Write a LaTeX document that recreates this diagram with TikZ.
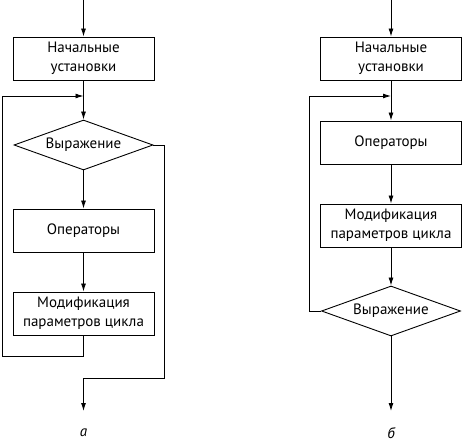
\documentclass[tikz,border=0pt]{standalone}
\usepackage{fontspec}
\setmainfont{PT Sans}
\usetikzlibrary{shapes.geometric,arrows.meta}

\tikzset{
  blok/.style={draw, rectangle, minimum width=141pt, minimum height=43pt,
    align=center, inner sep=0pt},
  uslovie/.style={draw, diamond, aspect=2.8, minimum width=139pt,
    minimum height=50pt, inner sep=0pt},
  strelka/.style={-{Latex[length=8pt,width=5pt]}},
}

\begin{document}
\begin{tikzpicture}[x=1pt, y=-1pt, line width=0.9pt,
    font=\fontsize{15}{18.5}\selectfont]
  \useasboundingbox (0,0) rectangle (464,441);

  % --- a ---
  \coordinate (vhodA) at (83.5,0);
  \node[blok] (nachA) at (83.5,58.5) {Начальные\\установки};
  \coordinate (uzelA) at (83.5,96);
  \node[uslovie] (vyrA) at (83.5,145) {Выражение};
  \node[blok] (operA) at (83.5,230.5) {Операторы};
  \node[blok] (modA) at (83.5,313.5) {Модификация\\параметров цикла};
  \coordinate (vyhodA) at (83.5,411);
  \node (podpA) at (83.5,433) {\itshape а};

  \draw[strelka] (vhodA) -- (nachA);
  \draw[strelka] (nachA) -- (vyrA);
  \draw[strelka] (vyrA) -- (operA);
  \draw[strelka] (operA) -- (modA);
  \draw[strelka] (modA.south) |- (2,356) |- (uzelA);
  \draw[strelka] (vyrA.east) -| (164,378) -| (vyhodA);

  % --- b ---
  \coordinate (vhodB) at (391,0);
  \node[blok] (nachB) at (391,58.5) {Начальные\\установки};
  \coordinate (uzelB) at (391,96);
  \node[blok] (operB) at (391,142.5) {Операторы};
  \node[blok] (modB) at (391,225.5) {Модификация\\параметров цикла};
  \node[uslovie] (vyrB) at (391,311) {Выражение};
  \coordinate (vyhodB) at (391,411);
  \node (podpB) at (391,433) {\itshape б};

  \draw[strelka] (vhodB) -- (nachB);
  \draw[strelka] (nachB) -- (operB);
  \draw[strelka] (operB) -- (modB);
  \draw[strelka] (modB) -- (vyrB);
  \draw[strelka] (vyrB.west) -| (309,96) -- (uzelB);
  \draw[strelka] (vyrB) -- (vyhodB);
\end{tikzpicture}
\end{document}
